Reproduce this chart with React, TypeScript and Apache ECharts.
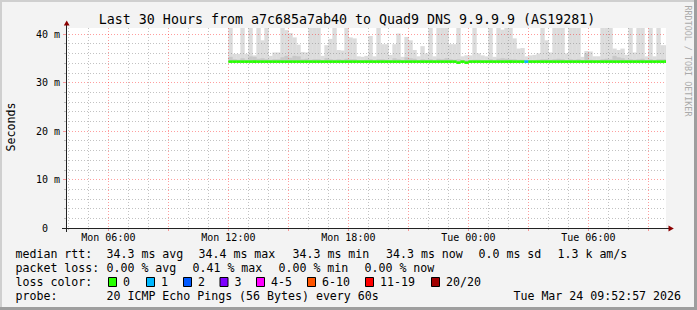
import React, { useEffect, useRef } from 'react';
import * as echarts from 'echarts';

const FONT = '"DejaVu Sans Mono", monospace';
const TITLE = 'Last 30 Hours from a7c685a7ab40 to Quad9 DNS 9.9.9.9 (AS19281)';
const Y_AXIS_NAME = 'Seconds';
const WATERMARK = 'RRDTOOL / TOBI OETIKER';

const t = (day: number, hour: number, min = 0, sec = 0) => Date.UTC(2026, 2, day, hour, min, sec);

const RANGE_START = t(23, 3, 52, 57);
const RANGE_END = t(24, 9, 52, 57);
const DATA_START = t(23, 12, 0, 0);
const STEP_MS = 12 * 60 * 1000;
const Y_MIN = 0;
const Y_MAX = 41.24;

// tick positions
const yLabelValues = [0, 10, 20, 30, 40];
const yMinorValues = [2, 4, 6, 8, 12, 14, 16, 18, 22, 24, 26, 28, 32, 34, 36, 38];
const xLabelTimes = [t(23, 6), t(23, 12), t(23, 18), t(24, 0), t(24, 6)];
const xMajorTimes = [t(23, 6), t(23, 9), t(23, 12), t(23, 15), t(23, 18), t(23, 21), t(24, 0), t(24, 3), t(24, 6), t(24, 9)];
const xMinorTimes = [
  t(23, 4), t(23, 5), t(23, 7), t(23, 8), t(23, 10), t(23, 11), t(23, 13), t(23, 14), t(23, 16), t(23, 17),
  t(23, 19), t(23, 20), t(23, 22), t(23, 23), t(24, 1), t(24, 2), t(24, 4), t(24, 5), t(24, 7), t(24, 8),
];

// smoke: highest ping per 12-minute bucket (ms), starting Mon 12:00
const smokeMax = [
  47, 35.9, 35.9, 52, 35.9, 45, 35.6, 49, 38.7, 55,
  35.5, 36.2, 36.2, 44, 40.8, 40.2, 39.3, 37.8, 36.3, 36.2,
  58, 46, 51, 35.5, 37.7, 39.0, 48, 36.7, 36.6, 53,
  39.3, 39.1, 35.4, 35.3, 35.5, 39.6, 35.4, 50, 37.9, 37.9,
  35.7, 37.9, 40.1, 35.3, 39.4, 38.7, 36.7, 35.4, 37.5, 36.0,
  45, 35.4, 57, 49, 44, 37.9, 37.9, 52, 35.4, 35.6,
  35.6, 47, 36.0, 35.6, 35.4, 54, 35.3, 46, 40.9, 50,
  43, 39.1, 37.0, 37.1, 35.4, 35.6, 35.7, 36.0, 48, 38.7,
  36.2, 51, 45, 56, 36.0, 44, 49, 53, 35.3, 36.5,
  36.4, 35.4, 35.4, 47, 55, 43, 37.0, 36.7, 37.0, 35.7,
  50, 36.2, 46, 52, 35.4, 48, 35.4, 45, 37.7, 37.7,
];

// smoke: inner (darker) band upper edge per bucket (ms)
const smokeMid = [
  35.3, 34.8, 34.7, 35.0, 34.7, 35.4, 35.3, 34.9, 35.0, 34.8,
  34.7, 34.8, 34.8, 35.2, 35.5, 35.1, 35.5, 35.4, 34.8, 34.9,
  34.7, 34.8, 34.8, 34.6, 35.0, 34.8, 34.7, 34.8, 34.7, 34.9,
  34.8, 34.8, 34.6, 34.6, 34.7, 34.8, 34.6, 34.8, 34.8, 34.7,
  34.6, 35.0, 34.8, 34.6, 35.2, 35.0, 34.9, 34.6, 34.8, 34.7,
  34.8, 34.6, 34.9, 34.8, 35.0, 34.8, 34.7, 34.8, 34.6, 34.6,
  34.6, 34.7, 34.7, 34.6, 34.6, 34.8, 34.6, 34.9, 35.0, 34.9,
  34.8, 34.8, 34.7, 34.7, 34.6, 34.6, 34.6, 34.7, 34.8, 34.8,
  34.7, 34.8, 34.9, 34.8, 34.6, 34.8, 34.7, 34.8, 34.6, 36.0,
  34.7, 34.6, 34.6, 34.8, 34.9, 34.8, 35.5, 35.2, 35.0, 34.7,
  34.8, 34.7, 34.8, 34.9, 34.6, 34.8, 34.6, 34.8, 34.8, 34.8,
];

// median rtt per bucket (ms)
const medianRtt = [
  34.3, 34.3, 34.3, 34.3, 34.3, 34.3, 34.3, 34.3, 34.3, 34.3,
  34.3, 34.3, 34.3, 34.3, 34.3, 34.3, 34.3, 34.3, 34.3, 34.3,
  34.3, 34.3, 34.3, 34.3, 34.3, 34.3, 34.3, 34.3, 34.3, 34.3,
  34.3, 34.3, 34.3, 34.3, 34.3, 34.3, 34.3, 34.3, 34.3, 34.3,
  34.3, 34.3, 34.3, 34.3, 34.3, 34.3, 34.3, 34.3, 34.3, 34.3,
  34.3, 34.3, 34.3, 34.3, 34.3, 34.3, 34.3, 34.1, 34.3, 34.1,
  34.3, 34.3, 34.3, 34.3, 34.3, 34.3, 34.3, 34.3, 34.3, 34.3,
  34.3, 34.3, 34.3, 34.3, 34.3, 34.3, 34.3, 34.3, 34.3, 34.3,
  34.3, 34.3, 34.3, 34.3, 34.3, 34.3, 34.3, 34.3, 34.3, 34.3,
  34.3, 34.3, 34.3, 34.3, 34.3, 34.3, 34.3, 34.3, 34.3, 34.3,
  34.3, 34.3, 34.3, 34.3, 34.3, 34.3, 34.3, 34.3, 34.3, 34.3,
];

// lost pings (of 20) per bucket
const lossCount = [
  0, 0, 0, 0, 0, 0, 0, 0, 0, 0,
  0, 0, 0, 0, 0, 0, 0, 0, 0, 0,
  0, 0, 0, 0, 0, 0, 0, 0, 0, 0,
  0, 0, 0, 0, 0, 0, 0, 0, 0, 0,
  0, 0, 0, 0, 0, 0, 0, 0, 0, 0,
  0, 0, 0, 0, 0, 0, 0, 0, 0, 0,
  0, 0, 0, 0, 0, 0, 0, 0, 0, 0,
  0, 0, 0, 0, 1, 0, 0, 0, 0, 0,
  0, 0, 0, 0, 0, 0, 0, 0, 0, 0,
  0, 0, 0, 0, 0, 0, 0, 0, 0, 0,
  0, 0, 0, 0, 0, 0, 0, 0, 0, 0,
];

const lossLabels = ['0', '1', '2', '3', '4-5', '6-10', '11-19', '20/20'];
const lossColors = ['#26ff00', '#00b8ff', '#0059ff', '#7e00ff', '#ff00ff', '#ff5500', '#ff0000', '#a10000'];
const lossUpper = [0, 1, 2, 3, 5, 10, 19, 20];

const rttLegend = ['median rtt:', '34.3 ms avg', '34.4 ms max', '34.3 ms min', '34.3 ms now', '0.0 ms sd', '1.3 k am/s'];
const lossLegend = ['packet loss:', '0.00 % avg', '0.41 % max', '0.00 % min', '0.00 % now'];
const lossColorLabel = 'loss color:';
const probeLabel = 'probe:';
const probeText = '20 ICMP Echo Pings (56 Bytes) every 60s';
const dateText = 'Tue Mar 24 09:52:57 2026';

const DAYS = ['Sun', 'Mon', 'Tue', 'Wed', 'Thu', 'Fri', 'Sat'];
const pad = (n: number) => (n < 10 ? '0' + n : '' + n);
const fmtTime = (v: number) => {
  const d = new Date(v);
  return `${DAYS[d.getUTCDay()]} ${pad(d.getUTCHours())}:${pad(d.getUTCMinutes())}`;
};

const lossColor = (n: number) => {
  for (let i = 0; i < lossUpper.length; i++) if (n <= lossUpper[i]) return lossColors[i];
  return lossColors[lossColors.length - 1];
};

const GRID_MINOR = 'rgba(120,120,120,0.45)';
const GRID_MAJOR = 'rgba(255,0,0,0.38)';

const bandRenderer = (fill: string) => (params: any, api: any) => {
  const x0 = api.value(0);
  const hi = api.value(1);
  const lo = api.value(2);
  const a = api.coord([x0, lo]);
  const b = api.coord([x0 + STEP_MS, hi]);
  const cs = params.coordSys;
  const shape = echarts.graphic.clipRectByRect(
    { x: a[0], y: b[1], width: b[0] - a[0] + 0.4, height: a[1] - b[1] },
    { x: cs.x, y: cs.y, width: cs.width, height: cs.height }
  );
  if (!shape) return null;
  return { type: 'rect', shape, style: { fill } };
};

const medianRenderer = (params: any, api: any) => {
  const x0 = api.value(0);
  const v = api.value(1);
  const loss = api.value(2);
  const a = api.coord([x0, v]);
  const b = api.coord([x0 + STEP_MS, v]);
  const cs = params.coordSys;
  const shape = echarts.graphic.clipRectByRect(
    { x: a[0], y: a[1] - 1.3, width: b[0] - a[0] + 0.3, height: 2.6 },
    { x: cs.x, y: cs.y, width: cs.width, height: cs.height }
  );
  if (!shape) return null;
  return { type: 'rect', shape, style: { fill: lossColor(loss) } };
};

const text = (str: string, x: number, y: number, size: number, extra: any = {}, elExtra: any = {}) => ({
  type: 'text',
  x,
  y,
  silent: true,
  ...elExtra,
  style: {
    text: str,
    font: `${size}px ${FONT}`,
    fill: '#000',
    align: 'left',
    verticalAlign: 'middle',
    textAlign: 'left',
    textVerticalAlign: 'middle',
    ...extra,
  },
});

function buildOption() {
  const bucketTime = (k: number) => DATA_START + k * STEP_MS;
  const smokeOuter = smokeMax.map((v, k) => [bucketTime(k), v, medianRtt[k]]);
  const smokeInner = smokeMid.map((v, k) => [bucketTime(k), v, medianRtt[k]]);
  const median = medianRtt.map((v, k) => [bucketTime(k), v, lossCount[k]]);

  const rttX = [15.5, 106.5, 198.5, 292.5, 386, 478.5, 557.5];
  const lossX = [15.5, 106.5, 192.5, 278.5, 364.5];
  const boxX = [108.5, 146.5, 183.5, 220, 256.5, 307.5, 365.5, 431.5];

  const graphic: any[] = [
    { type: 'rect', silent: true, shape: { x: 0, y: 0, width: 697, height: 2 }, style: { fill: '#cfcfcf' } },
    { type: 'rect', silent: true, shape: { x: 0, y: 0, width: 2, height: 310 }, style: { fill: '#cfcfcf' } },
    { type: 'rect', silent: true, shape: { x: 0, y: 307, width: 697, height: 3 }, style: { fill: '#9e9e9e' } },
    { type: 'rect', silent: true, shape: { x: 694, y: 0, width: 3, height: 310 }, style: { fill: '#9e9e9e' } },
    // axis extensions and arrows
    { type: 'line', silent: true, z: 20, shape: { x1: 66.5, y1: 232, x2: 66.5, y2: 24 }, style: { stroke: '#222', lineWidth: 1 } },
    { type: 'line', silent: true, z: 20, shape: { x1: 62, y1: 228.5, x2: 669, y2: 228.5 }, style: { stroke: '#222', lineWidth: 1 } },
    { type: 'polygon', silent: true, z: 21, shape: { points: [[63.8, 25.5], [69.6, 25.5], [66.7, 20.5]] }, style: { fill: '#8b0000' } },
    { type: 'polygon', silent: true, z: 21, shape: { points: [[668.5, 225.6], [668.5, 231.4], [673.8, 228.5]] }, style: { fill: '#8b0000' } },
    text(TITLE, 347, 19, 13.3, { align: 'center', textAlign: 'center' }),
    text(Y_AXIS_NAME, 11, 127, 11.6, { align: 'center', textAlign: 'center' }, { rotation: Math.PI / 2 }),
    text(WATERMARK, 688, 61, 8.4, { align: 'center', textAlign: 'center', fill: '#aaaaaa' }, { rotation: -Math.PI / 2 }),
  ];
  rttLegend.forEach((s, i) => graphic.push(text(s, rttX[i], 254, 11.6)));
  lossLegend.forEach((s, i) => graphic.push(text(s, lossX[i], 268, 11.6)));
  graphic.push(text(lossColorLabel, 15.5, 282, 11.6));
  lossLabels.forEach((s, i) => {
    graphic.push({
      type: 'rect',
      silent: true,
      shape: { x: boxX[i], y: 277.5, width: 8, height: 9 },
      style: { fill: lossColors[i], stroke: '#000', lineWidth: 1 },
    });
    graphic.push(text(s, boxX[i] + 14.5, 282, 11.6));
  });
  graphic.push(text(probeLabel, 15.5, 296, 11.6));
  graphic.push(text(probeText, 106.5, 296, 11.6));
  graphic.push(text(dateText, 681, 296, 11.6, { align: 'right', textAlign: 'right' }));

  const xBase = {
    type: 'value',
    min: RANGE_START,
    max: RANGE_END,
    gridIndex: 0,
    position: 'bottom',
    z: 3,
  };
  const yBase = {
    type: 'value',
    min: Y_MIN,
    max: Y_MAX,
    gridIndex: 0,
    position: 'left',
    z: 3,
  };

  return {
    animation: false,
    backgroundColor: '#f3f3f3',
    textStyle: { fontFamily: FONT },
    grid: { left: 66, top: 28, width: 600, height: 200, show: true, backgroundColor: '#ffffff', borderWidth: 0 },
    xAxis: [
      {
        ...xBase,
        axisLine: { show: false, onZero: false },
        axisTick: { show: true, customValues: xMinorTimes, length: 2, lineStyle: { color: GRID_MINOR } },
        axisLabel: { show: false },
        splitLine: { show: true, lineStyle: { color: GRID_MINOR, type: [1, 2], width: 1 } },
      },
      {
        ...xBase,
        axisLine: { show: false, onZero: false },
        axisTick: { show: true, customValues: xMajorTimes, length: 3, lineStyle: { color: GRID_MAJOR } },
        axisLabel: {
          show: true,
          customValues: xLabelTimes,
          formatter: (v: number) => fmtTime(v),
          margin: 4,
          color: '#000',
          fontSize: 10,
          fontFamily: FONT,
        },
        splitLine: { show: true, lineStyle: { color: GRID_MAJOR, type: [1, 2], width: 1 } },
      },
    ],
    yAxis: [
      {
        ...yBase,
        axisLine: { show: false, onZero: false },
        axisTick: { show: true, customValues: yMinorValues, length: 2, lineStyle: { color: GRID_MINOR } },
        axisLabel: { show: false },
        splitLine: { show: true, lineStyle: { color: GRID_MINOR, type: [1, 2], width: 1 } },
      },
      {
        ...yBase,
        axisLine: { show: false, onZero: false },
        axisTick: { show: true, customValues: yLabelValues, length: 3, lineStyle: { color: GRID_MAJOR } },
        axisLabel: {
          show: true,
          customValues: yLabelValues,
          formatter: (v: number) => (v === 0 ? '0\u00a0\u00a0' : `${v} m`),
          margin: 6,
          color: '#000',
          fontSize: 10,
          fontFamily: FONT,
        },
        splitLine: { show: true, lineStyle: { color: GRID_MAJOR, type: [1, 2], width: 1 } },
      },
    ],
    graphic,
    series: [
      {
        type: 'custom',
        name: 'smoke',
        xAxisIndex: 0,
        yAxisIndex: 0,
        z: 1,
        silent: true,
        encode: { x: 0, y: 1 },
        renderItem: bandRenderer('#dcdcdc'),
        data: smokeOuter,
      },
      {
        type: 'custom',
        name: 'smoke inner',
        xAxisIndex: 0,
        yAxisIndex: 0,
        z: 1,
        silent: true,
        encode: { x: 0, y: 1 },
        renderItem: bandRenderer('#c8c8c8'),
        data: smokeInner,
      },
      {
        type: 'custom',
        name: 'median rtt',
        xAxisIndex: 0,
        yAxisIndex: 0,
        z: 10,
        silent: true,
        encode: { x: 0, y: 1 },
        renderItem: medianRenderer,
        data: median,
      },
    ],
  };
}

export default function App() {
  const ref = useRef<HTMLDivElement>(null);
  useEffect(() => {
    if (!ref.current) return;
    const chart = echarts.init(ref.current, null, { renderer: 'svg' });
    chart.setOption(buildOption() as any);
    return () => chart.dispose();
  }, []);
  return <div ref={ref} style={{ position: 'absolute', left: 0, top: 0, width: 697, height: 310 }} />;
}
